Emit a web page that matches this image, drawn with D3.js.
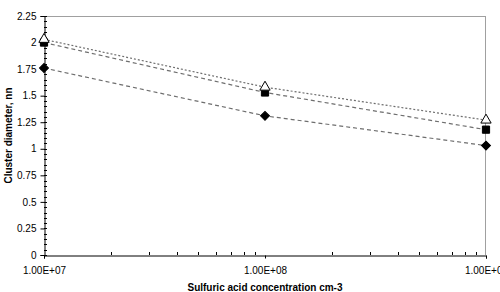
<!DOCTYPE html>
<html>
<head>
<meta charset="utf-8">
<script src="https://cdn.jsdelivr.net/npm/d3@7"></script>
<style>
  body { margin: 0; background: #fff; }
  text { font-family: "Liberation Sans", Arial, sans-serif; }
</style>
</head>
<body>
<div id="chart"></div>
<script>
// data
const concentrations = [1e7, 1e8, 1e9];
const triangleSeries = [2.03, 1.58, 1.27];
const squareSeries = [2.00, 1.53, 1.18];
const diamondSeries = [1.76, 1.31, 1.03];
const xTickValues = [1e7, 1e8, 1e9];
const yTickValues = [0, 0.25, 0.5, 0.75, 1, 1.25, 1.5, 1.75, 2, 2.25];

const W = 500, H = 292;
const margin = { top: 16, right: 14, bottom: 37, left: 44 },
  width = W - margin.left - margin.right,
  height = H - margin.top - margin.bottom;

const svg = d3.select("#chart")
  .append("svg")
  .attr("width", W)
  .attr("height", H);

const g = svg.append("g")
  .attr("transform", `translate(${margin.left},${margin.top})`);

const x = d3.scaleLog()
  .domain([1e7, 1e9])
  .range([0, width]);

const y = d3.scaleLinear()
  .domain([0, 2.25])
  .range([height, 0]);

// top and right frame (grey)
g.append("line")
  .attr("x1", 0).attr("x2", width).attr("y1", 0.5).attr("y2", 0.5)
  .attr("stroke", "#a0a0a0");
g.append("line")
  .attr("x1", width - 0.5).attr("x2", width - 0.5).attr("y1", 0).attr("y2", height)
  .attr("stroke", "#a0a0a0");

// y minor ticks (inside)
const yMinor = d3.range(0, 2.2501, 0.05);
g.append("g")
  .selectAll("line")
  .data(yMinor)
  .join("line")
  .attr("x1", 0).attr("x2", 3)
  .attr("y1", d => Math.round(y(d)) + 0.5)
  .attr("y2", d => Math.round(y(d)) + 0.5)
  .attr("stroke", "#000");

// y axis
const yAxis = g.append("g")
  .attr("transform", "translate(0.5,0)")
  .call(d3.axisLeft(y).tickValues(yTickValues).tickFormat(d3.format("")).tickSize(4).tickPadding(4));
yAxis.select(".domain").attr("stroke", "#000");
yAxis.selectAll("text").style("font-size", "10px").attr("fill", "#000");

// x minor ticks (inside, pointing up)
const xMinor = [];
[1e7, 1e8].forEach(p => { for (let k = 2; k <= 9; k++) xMinor.push(p * k); });
g.append("g")
  .selectAll("line")
  .data(xMinor)
  .join("line")
  .attr("x1", d => Math.round(x(d)) + 0.5)
  .attr("x2", d => Math.round(x(d)) + 0.5)
  .attr("y1", height).attr("y2", height - 3)
  .attr("stroke", "#000");

// x axis
const xAxis = g.append("g")
  .attr("transform", `translate(0,${height + 0.5})`)
  .call(d3.axisBottom(x).tickValues(xTickValues)
    .tickFormat(d => d.toExponential(2).toUpperCase().replace("E+", "E+0"))
    .tickSize(3).tickPadding(8));
xAxis.select(".domain").attr("stroke", "#000");
xAxis.selectAll("text").style("font-size", "10px").attr("fill", "#000");

// series
const series = [
  { name: "diamond", values: diamondSeries, dash: "4,3", symbol: d3.symbolSquare, size: 40, rot: 45, fill: "#000" },
  { name: "square", values: squareSeries, dash: "4,3", symbol: d3.symbolSquare, size: 52, rot: 0, fill: "#000" },
  { name: "triangle", values: triangleSeries, dash: "2,2", symbol: d3.symbolTriangle, size: 46, rot: 0, fill: "#fff" }
];

const line = d3.line()
  .x((d, i) => x(concentrations[i]))
  .y(d => y(d));

g.selectAll(".series-line")
  .data(series)
  .join("path")
  .attr("class", "series-line")
  .attr("d", d => line(d.values))
  .attr("fill", "none")
  .attr("stroke", "#6e6e6e")
  .attr("stroke-width", 1.2)
  .attr("stroke-dasharray", d => d.dash);

series.forEach(s => {
  g.append("g")
    .selectAll("path")
    .data(s.values)
    .join("path")
    .attr("transform", (d, i) => `translate(${x(concentrations[i])},${y(d)}) rotate(${s.rot})`)
    .attr("d", d3.symbol().type(s.symbol).size(s.size))
    .attr("fill", s.fill)
    .attr("stroke", "#000")
    .attr("stroke-width", 1);
});

// axis titles
svg.append("text")
  .attr("x", margin.left + width / 2)
  .attr("y", 291)
  .attr("text-anchor", "middle")
  .style("font-size", "10px")
  .style("font-weight", "bold")
  .text("Sulfuric acid concentration cm-3");

svg.append("text")
  .attr("transform", `translate(12,${margin.top + height / 2}) rotate(-90)`)
  .attr("text-anchor", "middle")
  .style("font-size", "10px")
  .style("font-weight", "bold")
  .text("Cluster diameter, nn");
</script>
</body>
</html>
